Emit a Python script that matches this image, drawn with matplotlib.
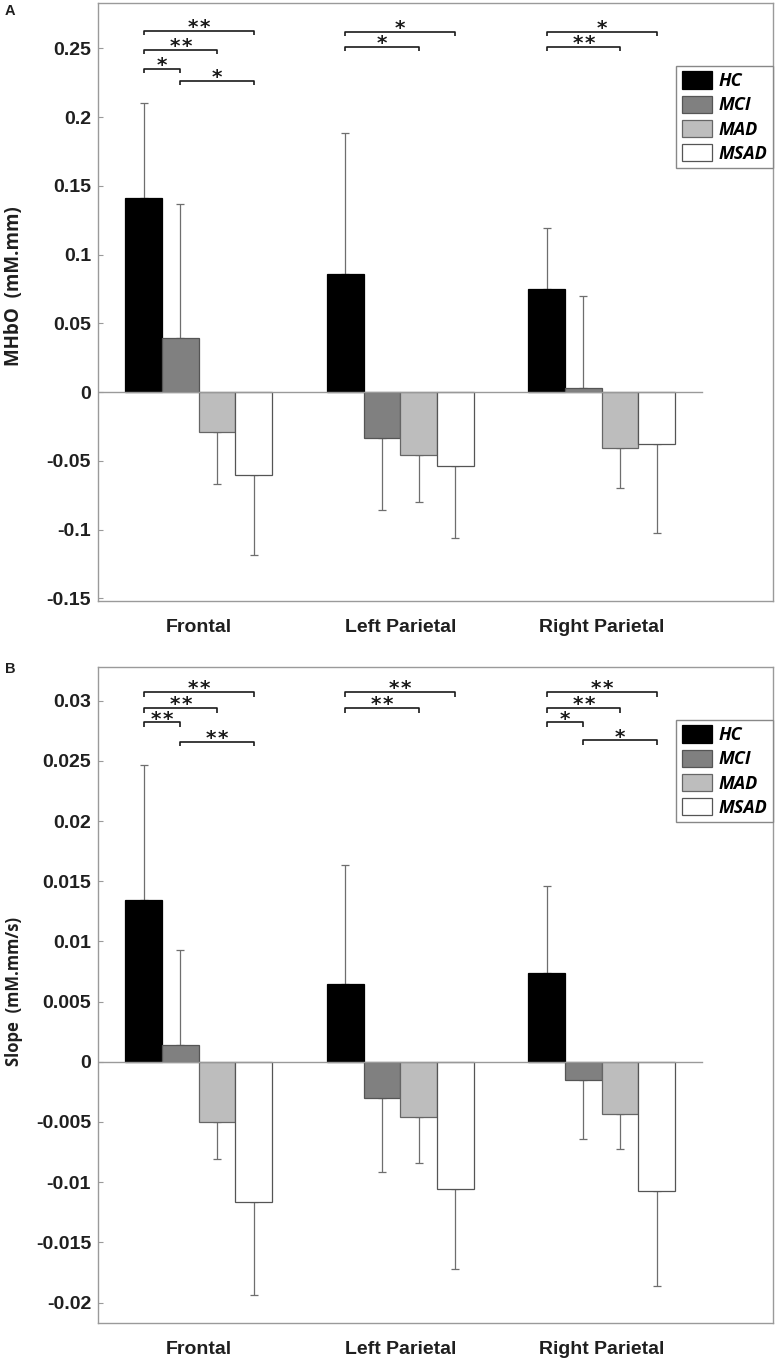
import numpy as np
import matplotlib
matplotlib.use('Agg')
from matplotlib import pyplot as plt
from matplotlib.ticker import FormatStrFormatter

# data
regions = ['Frontal', 'Left Parietal', 'Right Parietal']
groups = ['HC', 'MCI', 'MAD', 'MSAD']

# panel A: MHbO (mM.mm), mean and one-sided error per group, per region
mhbo_hc = [0.141, 0.0858, 0.075]
mhbo_mci = [0.039, -0.0333, 0.0032]
mhbo_mad = [-0.0289, -0.0455, -0.0406]
mhbo_msad = [-0.0606, -0.054, -0.0377]
mhbo_hc_err = [0.069, 0.1029, 0.0446]
mhbo_mci_err = [0.0975, 0.0524, 0.0667]
mhbo_mad_err = [0.038, 0.0345, 0.0292]
mhbo_msad_err = [0.058, 0.0524, 0.0646]

# panel B: slope (mM.mm/s)
slope_hc = [0.01343, 0.00644, 0.00734]
slope_mci = [0.00142, -0.0030, -0.0015]
slope_mad = [-0.00496, -0.00459, -0.00437]
slope_msad = [-0.01161, -0.0106, -0.01071]
slope_hc_err = [0.01124, 0.00989, 0.00724]
slope_mci_err = [0.00791, 0.00615, 0.00493]
slope_mad_err = [0.00308, 0.00384, 0.00286]
slope_msad_err = [0.00774, 0.00662, 0.0079]

# significance brackets: (region, group a, group b, height, stars)
mhbo_sig = [(0, 0, 3, 0.2628, '**'), (0, 0, 2, 0.2488, '**'),
            (0, 0, 1, 0.2349, '*'), (0, 1, 3, 0.2264, '*'),
            (1, 0, 3, 0.2621, '*'), (1, 0, 2, 0.2512, '*'),
            (2, 0, 3, 0.2621, '*'), (2, 0, 2, 0.2512, '**')]
slope_sig = [(0, 0, 3, 0.0307, '**'), (0, 0, 2, 0.0294, '**'),
             (0, 0, 1, 0.0282, '**'), (0, 1, 3, 0.0266, '**'),
             (1, 0, 3, 0.0307, '**'), (1, 0, 2, 0.0294, '**'),
             (2, 0, 3, 0.0307, '**'), (2, 0, 2, 0.0294, '**'),
             (2, 0, 1, 0.0282, '*'), (2, 1, 3, 0.0267, '*')]

mhbo_ticks = [-0.15, -0.1, -0.05, 0, 0.05, 0.1, 0.15, 0.2, 0.25]
slope_ticks = [-0.02, -0.015, -0.01, -0.005, 0, 0.005, 0.01, 0.015, 0.02, 0.025, 0.03]

# style
face_colors = ['#000000', '#808080', '#bdbdbd', '#ffffff']
edge_colors = ['#000000', '#555555', '#666666', '#555555']
grey = '#9a9a9a'
text_color = '#1f1f1f'
bar_w = 0.182
centers = np.arange(1, len(regions) + 1)

W, H = 775, 1361


def draw_panel(ax, means, errs, sig, ylim, yticks, legend_top):
    for i, g in enumerate(groups):
        m = np.array(means[i])
        e = np.array(errs[i])
        x = centers + (i - 1.5) * bar_w
        ax.bar(x, m, width=bar_w, color=face_colors[i], edgecolor=edge_colors[i],
               linewidth=0.9, zorder=3, label=g)
        lower = np.where(m < 0, e, 0)
        upper = np.where(m > 0, e, 0)
        ax.errorbar(x, m, yerr=[lower, upper], fmt='none', ecolor='#6e6e6e',
                    elinewidth=0.9, capsize=2.6, capthick=0.9, zorder=2)

    # baseline of the bar groups
    ax.plot([0.5, 3.5], [0, 0], color=grey, lw=1.0, zorder=4)

    # brackets, stars placed one by one so that they sit apart like the original
    drop = 0.0072 * (ylim[1] - ylim[0])
    for r, a, b, y, s in sig:
        x1 = centers[r] + (a - 1.5) * bar_w
        x2 = centers[r] + (b - 1.5) * bar_w
        ax.plot([x1, x1, x2, x2], [y - drop, y, y, y - drop], color='#1a1a1a',
                lw=1.2, solid_capstyle='butt', zorder=5)
        n = len(s)
        for k in range(n):
            dx = (k - (n - 1) / 2) * 8.6
            ax.annotate('*', ((x1 + x2) / 2, y), xytext=(dx, -1.6),
                        textcoords='offset points', ha='center', va='baseline',
                        fontsize=14.5, fontweight='bold', family='DejaVu Sans',
                        color='#1a1a1a')

    ax.set_xlim(0.5, 3.85)
    ax.set_ylim(ylim)
    ax.set_xticks(centers)
    ax.set_xticklabels(regions)
    ax.set_yticks(yticks)
    ax.yaxis.set_major_formatter(FormatStrFormatter('%g'))
    ax.tick_params(axis='x', length=0, pad=13, labelsize=14, labelcolor=text_color)
    ax.tick_params(axis='y', direction='in', length=3.5, width=0.8, color=grey,
                   pad=5, labelsize=14, labelcolor=text_color)
    for lab in ax.get_xticklabels() + ax.get_yticklabels():
        lab.set_fontweight('bold')
        lab.set_family('Liberation Sans')

    for spine in ['top', 'bottom', 'left', 'right']:
        ax.spines[spine].set_linewidth(1.0)
        ax.spines[spine].set_color(grey)

    legend = ax.legend(loc='upper right', bbox_to_anchor=(1.0, legend_top),
                       borderaxespad=0, fancybox=False, edgecolor='#888888',
                       framealpha=1, handlelength=1.65, handleheight=1.1,
                       handletextpad=0.4, labelspacing=0.3, borderpad=0.3,
                       prop={'family': 'Open Sans', 'weight': 'bold',
                             'style': 'italic', 'size': 13})
    legend.get_frame().set_linewidth(1.0)


fig = plt.figure(figsize=(W / 100, H / 100), dpi=100)
ax1 = fig.add_axes([98 / W, 1 - 601 / H, 675 / W, 598 / H])
ax2 = fig.add_axes([98 / W, 1 - 1323 / H, 675 / W, 656 / H])

draw_panel(ax1,
           [mhbo_hc, mhbo_mci, mhbo_mad, mhbo_msad],
           [mhbo_hc_err, mhbo_mci_err, mhbo_mad_err, mhbo_msad_err],
           mhbo_sig, (-0.152, 0.283), mhbo_ticks, (601 - 66) / 598)
draw_panel(ax2,
           [slope_hc, slope_mci, slope_mad, slope_msad],
           [slope_hc_err, slope_mci_err, slope_mad_err, slope_msad_err],
           slope_sig, (-0.0217, 0.0328), slope_ticks, (1323 - 720) / 656)

# axis titles and panel letters
fig.text(14 / W, 1 - 286 / H, 'MHbO  (mM.mm)', rotation=90, ha='center', va='center',
         fontsize=13.5, fontweight='bold', family='Open Sans', color=text_color)
fig.text(14 / W, 1 - 992 / H, 'Slope  (mM.mm/s)', rotation=90, ha='center', va='center',
         fontsize=12, fontweight='bold', family='Open Sans', color=text_color)
fig.text(5 / W, 1 - 15 / H, 'A', fontsize=10.5, fontweight='bold',
         family='Liberation Sans', va='baseline', color=text_color)
fig.text(5 / W, 1 - 673 / H, 'B', fontsize=10.5, fontweight='bold',
         family='Liberation Sans', va='baseline', color=text_color)

fig.savefig('out.png', dpi=100)
